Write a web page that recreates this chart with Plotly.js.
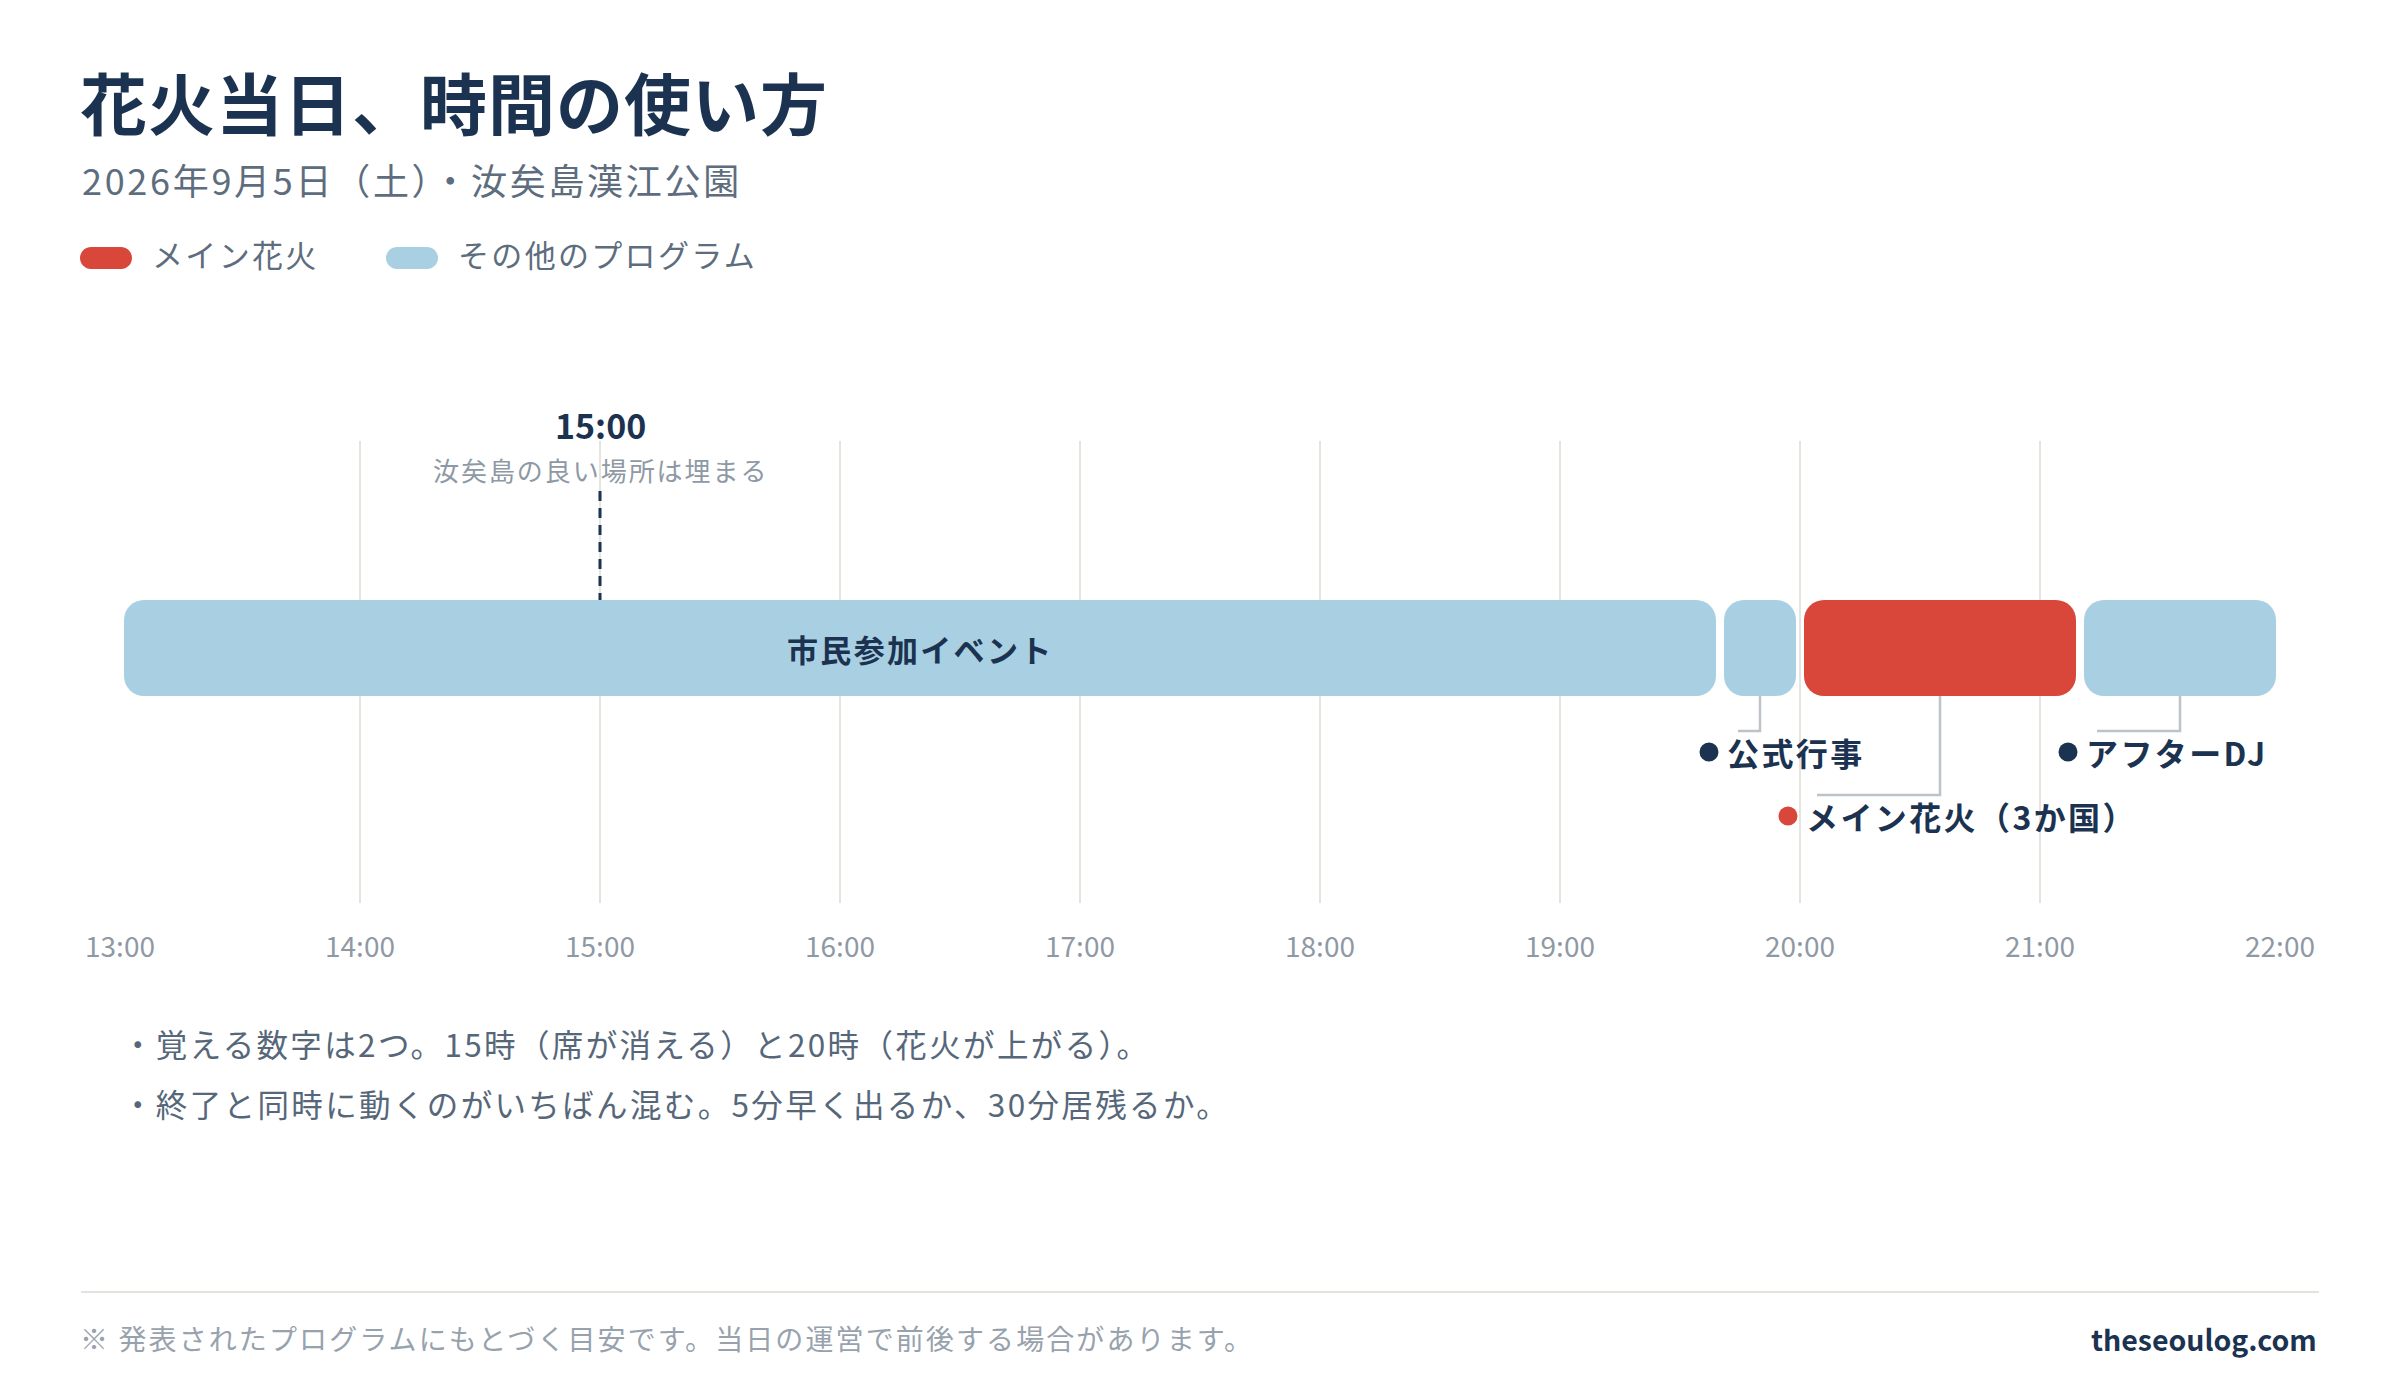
<!DOCTYPE html>
<html>
<head>
<meta charset="utf-8">
<script src="https://cdn.plot.ly/plotly-3.0.1.min.js"></script>
<style>
html,body{margin:0;padding:0;background:#fff;}
.annotation-text{letter-spacing:0.075em;}
.gtitle{letter-spacing:0.015em;}
</style>
</head>
<body>
<div id="chart" style="width:2400px;height:1400px;"></div>
<script>
// ---------- data ----------
const segStart = ["13:00", "19:40", "20:00", "21:10"];
const segEnd   = ["19:40", "20:00", "21:10", "22:00"];
const segName  = ["市民参加イベント", "公式行事", "メイン花火（3か国）", "アフターDJ"];
const segKind  = ["other", "other", "main", "other"];
const segLabelInside = [true, false, false, false];

const tickLabels = ["13:00","14:00","15:00","16:00","17:00","18:00","19:00","20:00","21:00","22:00"];

const markerTime = "15:00";
const markerNote = "汝矣島の良い場所は埋まる";

const legendKinds = ["main", "other"];
const legendNames = ["メイン花火", "その他のプログラム"];

const titleText = "花火当日、時間の使い方";
const subtitleText = "2026年9月5日（土）・汝矣島漢江公園";
const notes = [
  "・覚える数字は2つ。15時（席が消える）と20時（花火が上がる）。",
  "・終了と同時に動くのがいちばん混む。5分早く出るか、30分居残るか。"
];
const footnote = "※ 発表されたプログラムにもとづく目安です。当日の運営で前後する場合があります。";
const sourceText = "theseoulog.com";

// ---------- style / layout ----------
const FONT = '"Noto Sans CJK JP", "Noto Sans", sans-serif';
const NAVY = "#1b3350";
const GRAY = "#5d6d7e";
const LIGHT = "#8e99a5";
const COLORS = { main: "#d9473b", other: "#a9cfe2" };

const X0 = 120, X1 = 2280, Y0 = 441, Y1 = 903;
const PW = X1 - X0, PH = Y1 - Y0;
const px = x => (x - X0) / PW;
const py = y => (Y1 - y) / PH;

const toH = t => { const [h, m] = t.split(":").map(Number); return h + m / 60; };
const tickVals = tickLabels.map(toH);
const xRange = [tickVals[0], tickVals[tickVals.length - 1]];
const hPerPx = (xRange[1] - xRange[0]) / PW;

const BAR_PX = 96, BAR_CY = 648;
const yRange = [-(Y1 - BAR_CY) / BAR_PX, (BAR_CY - Y0) / BAR_PX];

// callout layout (pixel offsets from bar centre)
const calloutDotDx = [null, -51, -152, -112];
const calloutLevelY = [null, 752, 816, 752];

// ---------- traces ----------
const gap = 4 * hPerPx;
const traces = ["main", "other"].map(kind => {
  const x = [], base = [], y = [];
  segStart.forEach((st, i) => {
    if (segKind[i] !== kind) return;
    const s = toH(st), e = toH(segEnd[i]);
    base.push(s + gap); x.push((e - gap) - (s + gap)); y.push(0);
  });
  return {
    type: "bar", orientation: "h", x, base, y, width: 1,
    marker: { color: COLORS[kind], cornerradius: 20, line: { width: 0 } },
    hoverinfo: "skip", showlegend: false
  };
});

// ---------- shapes & annotations ----------
const shapes = [];
const annotations = [];

function pillPath(W, H) {
  const r = H / 2, k = 0.5523 * r;
  return `M ${r},${-r} L ${W - r},${-r} C ${W - r + k},${-r} ${W},${-k} ${W},0 ` +
         `C ${W},${k} ${W - r + k},${r} ${W - r},${r} L ${r},${r} ` +
         `C ${r - k},${r} 0,${k} 0,0 C 0,${-k} ${r - k},${-r} ${r},${-r} Z`;
}

// subtitle
annotations.push({ xref: "paper", yref: "paper", x: px(80), y: py(179), xanchor: "left", yanchor: "middle",
  text: subtitleText, showarrow: false, font: { family: FONT, size: 36, color: GRAY } });

// legend
const legendX = [80, 386];
legendKinds.forEach((k, i) => {
  shapes.push({ type: "path", xref: "paper", yref: "paper", xsizemode: "pixel", ysizemode: "pixel",
    xanchor: px(legendX[i]), yanchor: py(258), path: pillPath(52, 22),
    fillcolor: COLORS[k], line: { width: 0 } });
  annotations.push({ xref: "paper", yref: "paper", x: px(legendX[i] + 70), y: py(253), xanchor: "left", yanchor: "middle",
    text: legendNames[i], showarrow: false, font: { family: FONT, size: 31, color: GRAY } });
});

// 15:00 marker
const mt = toH(markerTime);
annotations.push({ xref: "x", yref: "paper", x: mt, y: py(424), xanchor: "center", yanchor: "middle",
  text: '<span style="letter-spacing:0">' + markerTime + '</span>', showarrow: false,
  font: { family: FONT, size: 34, color: NAVY, weight: 700 } });
annotations.push({ xref: "x", yref: "paper", x: mt, y: py(469), xanchor: "center", yanchor: "middle",
  text: markerNote, showarrow: false, font: { family: FONT, size: 26, color: LIGHT } });
shapes.push({ type: "line", xref: "x", yref: "paper", x0: mt, x1: mt, y0: py(491), y1: py(BAR_CY - BAR_PX / 2),
  line: { color: NAVY, width: 3, dash: "10px,7px" } });

// bar labels & callouts
segStart.forEach((st, i) => {
  const s = toH(st), e = toH(segEnd[i]), c = (s + e) / 2;
  if (segLabelInside[i]) {
    annotations.push({ xref: "x", yref: "paper", x: c, y: py(BAR_CY), xanchor: "center", yanchor: "middle",
      text: segName[i], showarrow: false, font: { family: FONT, size: 31, color: NAVY, weight: 700 } });
    return;
  }
  const dx = calloutDotDx[i], ly = calloutLevelY[i];
  const barBottom = BAR_CY + BAR_PX / 2;
  shapes.push({ type: "path", xref: "x", yref: "paper",
    path: `M ${c},${py(barBottom)} L ${c},${py(ly - 21)} L ${c + (dx + 29) * hPerPx},${py(ly - 21)}`,
    line: { color: "#bcc3cb", width: 2.5 } });
  shapes.push({ type: "circle", xref: "x", yref: "paper", xsizemode: "pixel", ysizemode: "pixel",
    xanchor: c, yanchor: py(ly), x0: dx - 9.5, x1: dx + 9.5, y0: -9.5, y1: 9.5,
    fillcolor: segKind[i] === "main" ? COLORS.main : NAVY, line: { width: 0 } });
  annotations.push({ xref: "x", yref: "paper", x: c, xshift: dx + 16, y: py(ly), xanchor: "left", yanchor: "middle",
    text: segName[i], showarrow: false, font: { family: FONT, size: 32, color: NAVY, weight: 700 } });
});

// notes
const noteY = [1043, 1103];
notes.forEach((t, i) => {
  annotations.push({ xref: "paper", yref: "paper", x: px(120), y: py(noteY[i]), xanchor: "left", yanchor: "middle",
    text: t, showarrow: false, font: { family: FONT, size: 31.5, color: "#56677a" } });
});

// footer
shapes.push({ type: "line", xref: "paper", yref: "paper", x0: px(81), x1: px(2319), y0: py(1292), y1: py(1292),
  line: { color: "#e4e2dc", width: 2 } });
annotations.push({ xref: "paper", yref: "paper", x: px(78), y: py(1338), xanchor: "left", yanchor: "middle",
  text: footnote, showarrow: false, font: { family: FONT, size: 28, color: "#98a2ad" } });
annotations.push({ xref: "paper", yref: "paper", x: px(2319), y: py(1338), xanchor: "right", yanchor: "middle",
  text: '<span style="letter-spacing:0">' + sourceText + '</span>', showarrow: false,
  font: { family: FONT, size: 28.5, color: NAVY, weight: 700 } });

const layout = {
  width: 2400, height: 1400,
  paper_bgcolor: "#ffffff", plot_bgcolor: "#ffffff",
  margin: { l: X0, r: 2400 - X1, t: Y0, b: 1400 - Y1, pad: 0 },
  title: {
    text: titleText, xref: "container", yref: "container",
    x: 80 / 2400, xanchor: "left", y: 1 - 107 / 1400, yanchor: "middle",
    font: { family: FONT, size: 67, color: NAVY, weight: 700 }
  },
  barmode: "overlay",
  showlegend: false,
  xaxis: {
    range: xRange, tickvals: tickVals, ticktext: tickLabels,
    showgrid: true, gridcolor: "#e6e4df", gridwidth: 2,
    zeroline: false, showline: false, ticks: "", ticklabelstandoff: 25,
    tickfont: { family: FONT, size: 28, color: LIGHT }, fixedrange: true
  },
  yaxis: { range: yRange, visible: false, fixedrange: true },
  shapes, annotations,
  hovermode: false
};

Plotly.newPlot("chart", traces, layout, { displayModeBar: false, staticPlot: true });
</script>
</body>
</html>
